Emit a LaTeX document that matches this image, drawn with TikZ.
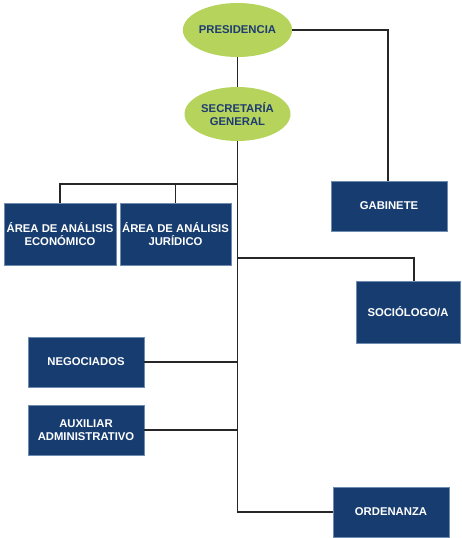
\documentclass[tikz,border=0pt]{standalone}
\usepackage{fontspec}
\setmainfont{Liberation Sans}
\usetikzlibrary{shapes.geometric}
\definecolor{boxblue}{HTML}{173D70}
\definecolor{boxedge}{HTML}{6E8BB0}
\definecolor{ellgreen}{HTML}{B6D45C}
\definecolor{elltext}{HTML}{1E3B72}
\begin{document}
\begin{tikzpicture}[x=1pt,y=-1pt,
  ell/.style={ellipse,fill=ellgreen,draw=none,text=elltext,font=\fontsize{11.3}{12.5}\selectfont\bfseries,align=center,inner sep=0pt},
  unit/.style={rectangle,fill=boxblue,draw=boxedge,line width=0.5pt,text=white,font=\fontsize{11.3}{13}\selectfont\bfseries,align=center,inner sep=0pt},
  conn/.style={draw=black!85,line width=1.4pt}]
\useasboundingbox (0,0) rectangle (461,538);
\fill[white] (0,0) rectangle (461,538);
% nodes
\node[ell,minimum width=104pt,minimum height=54pt] (pres) at (237.5,30) {PRESIDENCIA};
\node[ell,minimum width=106pt,minimum height=54pt] (sec) at (237.5,114) {SECRETARÍA\\GENERAL};
\node[unit,minimum width=116pt,minimum height=50pt] (gab) at (389,206) {GABINETE};
\node[unit,minimum width=112pt,minimum height=62pt] (eco) at (60,234) {ÁREA DE ANÁLISIS\\ECONÓMICO};
\node[unit,minimum width=111pt,minimum height=62pt] (jur) at (175.5,234) {ÁREA DE ANÁLISIS\\JURÍDICO};
\node[unit,minimum width=104pt,minimum height=62pt] (soc) at (408,312) {SOCIÓLOGO/A};
\node[unit,minimum width=116pt,minimum height=50pt] (neg) at (86,362) {NEGOCIADOS};
\node[unit,minimum width=116pt,minimum height=50pt] (aux) at (86,430) {AUXILIAR\\ADMINISTRATIVO};
\node[unit,minimum width=116pt,minimum height=50pt] (ord) at (391,512) {ORDENANZA};
% coordinates
\coordinate (tb) at (237.5,512);
\coordinate (jA) at (237.5,184);
\coordinate (jS) at (237.5,258);
% connectors
\draw[conn] (pres.south) -- (sec.north);
\draw[conn] (pres.east) -- (388,30) -- (gab.north -| 388,0);
\draw[conn] (sec.south) -- (tb) -- (ord.west);
\draw[conn] (jA) -- (eco.north |- jA) -- (eco.north);
\draw[conn] (jur.north |- jA) -- (jur.north);
\draw[conn] (jS) -- (414,258) -- (soc.north -| 414,0);
\draw[conn] (neg.east) -- (neg.east -| tb);
\draw[conn] (aux.east) -- (aux.east -| tb);
\end{tikzpicture}
\end{document}
